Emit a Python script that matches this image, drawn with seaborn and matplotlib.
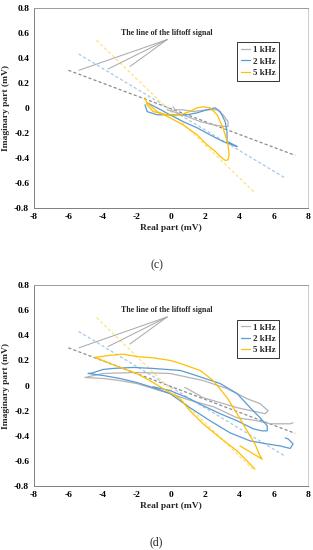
import numpy as np
import pandas as pd
import matplotlib
matplotlib.use("Agg")
import matplotlib.pyplot as plt
import seaborn as sns

sns.set_style("white")
plt.rcParams['font.family'] = ['Liberation Serif', 'DejaVu Serif']

# ---------------- data ----------------
series_labels = ["1 kHz", "2 kHz", "5 kHz"]
series_colors = ["#b4b4b4", "#5b9bd5", "#ffc000"]
lift_colors = ["#8c8c8c", "#a9c8ea", "#ffe27a"]

# liftoff dashed lines (same in both panels)
lift_x = [[-6.0, 7.25], [-5.4, 6.65], [-4.35, 4.9]]
lift_y = [[0.30, -0.38], [0.43, -0.56], [0.54, -0.68]]

# panel (c)
c_grey_x = [0.12, 0.23, 0.70, 1.29, 2.10, 2.69, 3.04, 3.33, 3.33, 3.16, 2.46, 1.70, 0.94, 0.35, -0.23]
c_grey_y = [0.008, -0.016, -0.016, -0.03, -0.016, -0.016, -0.056, -0.11, -0.15, -0.15, -0.136, -0.11, -0.07, -0.04, -0.016]
c_blue_x = [-1.52, -1.40, -0.82, 0.12, 0.94, 1.52, 2.10, 2.57, 2.87, 3.16, 3.27, 3.27, 3.45, 3.86,
            3.04, 2.28, 1.52, 0.70, -0.06, -0.82, -1.40]
c_blue_y = [0.024, -0.03, -0.056, -0.056, -0.056, -0.04, -0.016, 0.0, -0.03, -0.11, -0.19, -0.27, -0.28, -0.31,
            -0.27, -0.216, -0.16, -0.11, -0.056, 0.0, 0.04]
c_yel_x = [-1.52, -1.40, -1.05, -0.23, 0.53, 1.10, 1.52, 1.87, 2.28, 2.69, 3.04, 3.33, 3.39, 3.33, 3.16, 2.87, 2.60,
           2.10, 1.52, 0.70, -0.06, -0.82, -1.40]
c_yel_y = [0.08, 0.024, -0.03, -0.056, -0.056, -0.03, 0.0, 0.008, 0.0, -0.056, -0.16, -0.296, -0.376, -0.416, -0.42, -0.39, -0.35,
           -0.296, -0.216, -0.136, -0.08, -0.03, 0.04]

# panel (d)
d_grey_x = [7.13, 6.96, 5.80, 5.03, 3.86, 2.50, 0.94, -0.06, -1.05, -2.00, -3.00, -3.97, -5.03,
            -3.97, -2.00, -0.06, 1.87, 3.27, 4.44, 5.20, 5.67, 5.50, 3.86, 2.87, 1.87, 0.94, 0.80]
d_grey_y = [-0.296, -0.304, -0.304, -0.28, -0.256, -0.17, -0.11, -0.064, -0.024, 0.016, 0.04, 0.056, 0.064,
            0.096, 0.104, 0.096, 0.04, -0.024, -0.104, -0.144, -0.20, -0.224, -0.176, -0.136, -0.096, -0.024, -0.015]
d_blue_x = [6.67, 6.84, 7.13, 6.96, 6.37, 5.62, 4.62, 3.45, 2.28, 1.10, -0.06, -1.05, -2.00, -2.98, -3.97, -4.85,
            -4.60, -3.97, -3.39, -2.20, -1.05, 0.53, 1.10, 2.87, 3.86, 4.62, 5.20, 5.62, 5.62, 5.32, 4.80,
            3.86, 2.87, 1.87, 0.94, -0.06, -1.05]
d_blue_y = [-0.416, -0.424, -0.464, -0.50, -0.48, -0.464, -0.44, -0.376, -0.28, -0.176, -0.064, -0.016, 0.024, 0.056, 0.08, 0.096,
            0.10, 0.128, 0.136, 0.144, 0.136, 0.12, 0.096, 0.016, -0.064, -0.176, -0.256, -0.32, -0.36, -0.36, -0.344,
            -0.28, -0.224, -0.16, -0.096, -0.04, -0.01]
d_yel_x = [4.90, 4.62, 3.86, 2.87, 1.87, 1.10, 0.53, -0.47, -1.05, -2.00, -2.98, -4.44,
           -3.57, -2.80, -2.00, -1.05, -0.06, 0.53, 1.70, 2.46, 3.27, 3.86, 4.44, 4.90, 5.20, 5.32, 5.20, 4.03]
d_yel_y = [-0.664, -0.624, -0.52, -0.416, -0.304, -0.20, -0.104, -0.024, 0.024, 0.096, 0.144, 0.224,
           0.24, 0.25, 0.23, 0.22, 0.20, 0.176, 0.12, 0.04, -0.096, -0.224, -0.36, -0.464, -0.56, -0.584, -0.575, -0.48]

panels = [
    ("(c)", [(c_grey_x, c_grey_y), (c_blue_x, c_blue_y), (c_yel_x, c_yel_y)]),
    ("(d)", [(d_grey_x, d_grey_y), (d_blue_x, d_blue_y), (d_yel_x, d_yel_y)]),
]

x_ticks = [-8, -6, -4, -2, 0, 2, 4, 6, 8]
y_ticks = [-0.8, -0.6, -0.4, -0.2, 0, 0.2, 0.4, 0.6, 0.8]
y_tick_labels = ["-0.8", "-0.6", "-0.4", "-0.2", "0", "0.2", "0.4", "0.6", "0.8"]
annot_text = "The line of the liftoff signal"
annot_start = (-0.23, 0.545)
annot_ends = [(-5.38, 0.30), (-3.68, 0.31), (-2.40, 0.33)]

# ---------------- figure ----------------
fig = plt.figure(figsize=(3.13, 5.5), dpi=100)
axes_rects = [[0.109, 0.622, 0.875, 0.364], [0.109, 0.116, 0.875, 0.366]]
caption_y = [1 - 265 / 550, 1 - 542 / 550]

for (cap, data), rect, cy in zip(panels, axes_rects, caption_y):
    ax = fig.add_axes(rect)
    # liftoff dashed lines
    for lx, ly, lc in zip(lift_x, lift_y, lift_colors):
        sns.lineplot(x=lx, y=ly, ax=ax, color=lc, lw=0.9, linestyle=(0, (2.5, 1.8)),
                     sort=False, estimator=None, legend=False)
    # measured signals
    frames = []
    for lab, (sx, sy) in zip(series_labels, data):
        frames.append(pd.DataFrame({"x": sx, "y": sy, "s": lab}))
    df = pd.concat(frames, ignore_index=True)
    sns.lineplot(data=df, x="x", y="y", hue="s", hue_order=series_labels,
                 palette=series_colors, sort=False, estimator=None, lw=0.9, ax=ax)
    # annotation lines
    for ex, ey in annot_ends:
        ax.plot([annot_start[0], ex], [annot_start[1], ey], color="#a6a6a6", lw=0.7)
    ax.text(-0.23, 0.60, annot_text, ha="center", va="center", fontsize=5.7,
            fontweight="bold")

    ax.set_xlim(-8, 8)
    ax.set_ylim(-0.8, 0.8)
    ax.set_xticks(x_ticks)
    ax.set_xticklabels([str(t) for t in x_ticks])
    ax.set_yticks(y_ticks)
    ax.set_yticklabels(y_tick_labels)
    ax.tick_params(axis="both", labelsize=6.8, direction="out", length=2.0, width=0.6,
                   colors="#7f7f7f", pad=1.5, labelcolor="black")
    for lbl in ax.get_xticklabels() + ax.get_yticklabels():
        lbl.set_fontweight("bold")
    ax.set_xlabel("Real part (mV)", fontsize=6.8, fontweight="bold", labelpad=2)
    ax.set_ylabel("Imaginary part (mV)", fontsize=6.8, fontweight="bold", labelpad=3)
    for side in ["left", "bottom"]:
        ax.spines[side].set_color("#7f7f7f")
        ax.spines[side].set_linewidth(0.7)
    ax.spines["top"].set_color("#9a9a9a")
    ax.spines["top"].set_linewidth(0.7)
    ax.spines["right"].set_color("#d0d0d0")
    ax.spines["right"].set_linewidth(0.8)

    leg = ax.legend(loc="upper left", bbox_to_anchor=(0.726, 0.85), fontsize=6.5,
                    handlelength=1.0, handletextpad=0.3, labelspacing=0.35,
                    borderpad=0.4, frameon=True, fancybox=False, title=None)
    leg.get_frame().set_edgecolor("black")
    leg.get_frame().set_linewidth(0.7)
    for t in leg.get_texts():
        t.set_fontweight("bold")
    fig.text(0.5, cy, cap, ha="center", va="center", fontsize=8.5)

fig.savefig("out.png", dpi=100)
